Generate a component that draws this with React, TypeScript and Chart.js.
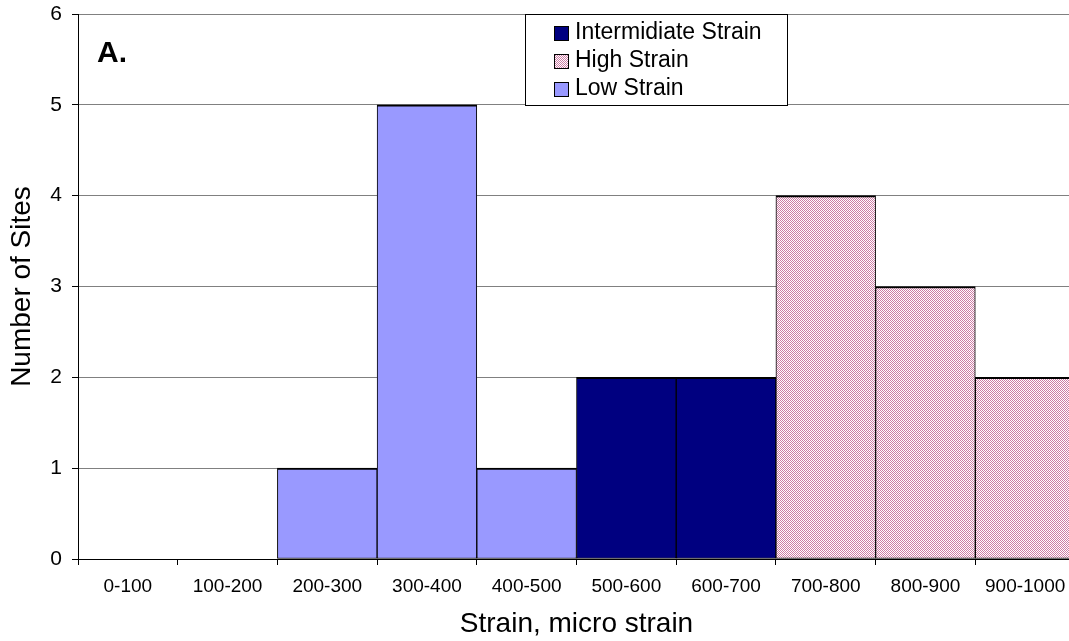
import { useEffect, useRef } from "react";
import { Chart, registerables } from "chart.js";

Chart.register(...registerables);

// Strain bins (micro strain)
const categories = [
  "0-100", "100-200", "200-300", "300-400", "400-500",
  "500-600", "600-700", "700-800", "800-900", "900-1000",
];

// Number of sites per bin, split by strain class (null = no bar)
const lowStrain = [null, null, 1, 5, 1, null, null, null, null, null];
const intermediateStrain = [null, null, null, null, null, 2, 2, null, null, null];
const highStrain = [null, null, null, null, null, null, null, 4, 3, 2];

const seriesNames = ["Low Strain", "Intermidiate Strain", "High Strain"];
const legendOrder = [1, 2, 0];

const yMin = 0;
const yMax = 6;
const yStep = 1;

const panelLabel = "A.";
const xTitle = "Strain, micro strain";
const yTitle = "Number of Sites";

const FONT = '"Liberation Sans", Arial, Helvetica, sans-serif';

function makeCheckerPattern(fg: string, bg: string): CanvasPattern | string {
  const c = document.createElement("canvas");
  c.width = 2;
  c.height = 2;
  const g = c.getContext("2d");
  if (!g) return fg;
  g.fillStyle = bg;
  g.fillRect(0, 0, 2, 2);
  g.fillStyle = fg;
  g.fillRect(0, 0, 1, 1);
  g.fillRect(1, 1, 1, 1);
  const ctx = document.createElement("canvas").getContext("2d");
  const p = ctx ? ctx.createPattern(c, "repeat") : null;
  return p || fg;
}

const overlayPlugin = {
  id: "panelOverlay",
  afterDraw(chart: any) {
    const ctx: CanvasRenderingContext2D = chart.ctx;
    ctx.save();

    // panel letter
    ctx.fillStyle = "#000";
    ctx.font = `bold 30px ${FONT}`;
    ctx.textAlign = "left";
    ctx.textBaseline = "alphabetic";
    ctx.fillText(panelLabel, 97, 62);

    // legend box
    ctx.fillStyle = "#fff";
    ctx.fillRect(526, 15, 261, 90);
    ctx.strokeStyle = "#000";
    ctx.lineWidth = 1;
    ctx.strokeRect(525.5, 14.5, 262, 91);

    ctx.font = `23px ${FONT}`;
    ctx.textBaseline = "middle";
    legendOrder.forEach((di, row) => {
      const ds = chart.data.datasets[di];
      const cy = 33.5 + row * 27.8;
      ctx.fillStyle = ds.backgroundColor;
      ctx.fillRect(555, Math.round(cy - 6.5), 13, 13);
      ctx.strokeStyle = "#000";
      ctx.strokeRect(554.5, Math.round(cy - 6.5) - 0.5, 14, 14);
      ctx.fillStyle = "#000";
      ctx.fillText(ds.label, 575, cy - 0.5);
    });

    ctx.restore();
  },
};

export default function App() {
  const canvasRef = useRef<HTMLCanvasElement | null>(null);

  useEffect(() => {
    const canvas = canvasRef.current;
    if (!canvas) return;
    const highFill = makeCheckerPattern("rgb(205,125,165)", "#ffffff");
    const border = { top: 2, left: 1, right: 1, bottom: 1 };

    const chart = new Chart(canvas, {
      type: "bar",
      data: {
        labels: categories,
        datasets: [
          {
            label: seriesNames[0],
            data: lowStrain,
            backgroundColor: "#9999ff",
            borderColor: "#000",
            borderWidth: border,
            borderSkipped: false,
          },
          {
            label: seriesNames[1],
            data: intermediateStrain,
            backgroundColor: "#000080",
            borderColor: "#000",
            borderWidth: border,
            borderSkipped: false,
          },
          {
            label: seriesNames[2],
            data: highStrain,
            backgroundColor: highFill as any,
            borderColor: "#000",
            borderWidth: border,
            borderSkipped: false,
          },
        ],
      },
      options: {
        responsive: false,
        animation: false,
        devicePixelRatio: 1,
        layout: { padding: { top: 14, left: 0, right: 0, bottom: 0 } },
        datasets: {
          bar: { barPercentage: 1, categoryPercentage: 1 },
        },
        plugins: {
          legend: { display: false },
          tooltip: { enabled: false },
        },
        scales: {
          x: {
            stacked: true,
            offset: true,
            afterFit: (s: any) => {
              s.height = 82;
              s.paddingLeft = 0;
              s.paddingRight = 0;
            },
            grid: {
              display: true,
              offset: true,
              drawOnChartArea: false,
              drawTicks: true,
              tickLength: 6,
              tickColor: "#000",
            },
            border: { display: true, color: "#000", width: 1 },
            ticks: {
              autoSkip: false,
              maxRotation: 0,
              minRotation: 0,
              padding: 10,
              color: "#000",
              font: { family: FONT, size: 19 },
            },
            title: {
              display: true,
              text: xTitle,
              color: "#000",
              font: { family: FONT, size: 28 },
              padding: { top: 0, bottom: 0 },
            },
          },
          y: {
            stacked: true,
            min: yMin,
            max: yMax,
            afterFit: (s: any) => {
              s.width = 78;
              s.paddingTop = 0;
              s.paddingBottom = 0;
            },
            grid: {
              color: "#808080",
              tickColor: "#000",
              tickLength: 6,
              lineWidth: 1,
            },
            border: { display: true, color: "#000", width: 1 },
            ticks: {
              stepSize: yStep,
              padding: 10,
              color: "#000",
              font: { family: FONT, size: 21 },
            },
            title: {
              display: true,
              text: yTitle,
              color: "#000",
              font: { family: FONT, size: 28 },
              padding: { top: 5, bottom: 0 },
            },
          },
        },
      },
      plugins: [overlayPlugin],
    });

    return () => {
      chart.destroy();
    };
  }, []);

  return (
    <div
      style={{
        position: "fixed",
        left: 0,
        top: 0,
        width: 1069,
        height: 641,
        overflow: "hidden",
        background: "#fff",
      }}
    >
      <canvas ref={canvasRef} width={1075} height={641} style={{ display: "block" }} />
    </div>
  );
}
